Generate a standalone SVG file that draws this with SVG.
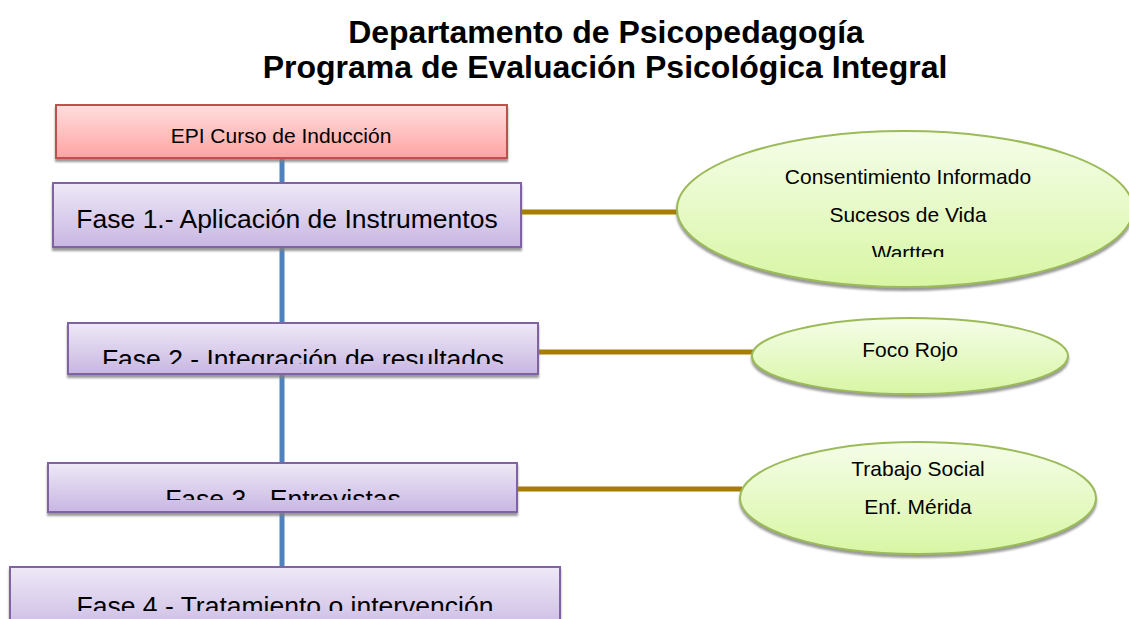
<svg xmlns="http://www.w3.org/2000/svg" width="1129" height="619" viewBox="0 0 1129 619">
  <style>
    .title { font-family: "Liberation Sans", Arial, sans-serif; font-weight: bold; font-size: 32px; fill: #000; text-anchor: middle; }
    .fase { font-family: "Liberation Sans", Arial, sans-serif; font-size: 26.5px; fill: #000; text-anchor: middle; }
    .small { font-family: "Liberation Sans", Arial, sans-serif; font-size: 21px; fill: #000; text-anchor: middle; }
    .box { fill: url(#gPurple); stroke: #8064a2; stroke-width: 2; filter: url(#shadow); }
    .red { fill: url(#gRed); stroke: #c0504d; stroke-width: 2; filter: url(#shadow); }
    .ell { fill: url(#gGreen); stroke: #9bbb59; stroke-width: 2; filter: url(#shadow); }
    .vline { stroke: #4f81bd; stroke-width: 5; fill: none; }
    .hline { stroke: #a67d00; stroke-width: 5; fill: none; }
  </style>
  <defs>
    <linearGradient id="gPurple" x1="0" y1="0" x2="0" y2="1">
      <stop offset="0" stop-color="#eee9f7"/>
      <stop offset="1" stop-color="#c8b6e2"/>
    </linearGradient>
    <linearGradient id="gRed" x1="0" y1="0" x2="0" y2="1">
      <stop offset="0" stop-color="#ffdede"/>
      <stop offset="1" stop-color="#ffa3a3"/>
    </linearGradient>
    <linearGradient id="gGreen" x1="0" y1="0" x2="0" y2="1">
      <stop offset="0" stop-color="#f5fde9"/>
      <stop offset="1" stop-color="#d8f6a4"/>
    </linearGradient>
    <filter id="shadow" x="-5%" y="-10%" width="110%" height="130%">
      <feDropShadow dx="0" dy="3" stdDeviation="1" flood-color="#808080" flood-opacity="0.8"/>
    </filter>
    <clipPath id="c1"><rect x="676" y="120" width="460" height="137"/></clipPath>
    <clipPath id="c2"><rect x="60" y="320" width="490" height="44"/></clipPath>
    <clipPath id="c3"><rect x="40" y="460" width="490" height="40"/></clipPath>
    <clipPath id="c4"><rect x="0" y="565" width="570" height="46"/></clipPath>
  </defs>

  <g id="title">
    <text class="title" x="606" y="43">Departamento de Psicopedagogía</text>
    <text class="title" x="605" y="78">Programa de Evaluación Psicológica Integral</text>
  </g>

  <g id="connectors">
    <line class="vline" x1="282" y1="158" x2="282" y2="568"/>
    <line class="hline" x1="521" y1="212" x2="678" y2="212"/>
    <line class="hline" x1="538" y1="352" x2="754" y2="352"/>
    <line class="hline" x1="517" y1="489" x2="742" y2="489"/>
  </g>

  <g id="epi">
    <rect class="red" x="56" y="105" width="451" height="53"/>
    <text class="small" x="281" y="143">EPI Curso de Inducción</text>
  </g>

  <g id="fase1">
    <rect class="box" x="53" y="183" width="468" height="64"/>
    <text class="fase" x="287" y="228">Fase 1.- Aplicación de Instrumentos</text>
  </g>

  <g id="fase2">
    <rect class="box" x="68" y="323" width="470" height="51"/>
    <text class="fase" x="303" y="368" clip-path="url(#c2)">Fase 2.- Integración de resultados</text>
  </g>

  <g id="fase3">
    <rect class="box" x="48" y="463" width="469" height="49"/>
    <text class="fase" x="283" y="508" clip-path="url(#c3)">Fase 3.- Entrevistas</text>
  </g>

  <g id="fase4">
    <rect class="box" x="10" y="567" width="550" height="70"/>
    <text class="fase" x="285" y="615" clip-path="url(#c4)">Fase 4.- Tratamiento o intervención</text>
  </g>

  <g id="instrumentos">
    <ellipse class="ell" cx="905" cy="209" rx="228" ry="78"/>
    <g clip-path="url(#c1)">
      <text class="small" x="908" y="184">Consentimiento Informado</text>
      <text class="small" x="908" y="222">Sucesos de Vida</text>
      <text class="small" x="908" y="260">Wartteg</text>
    </g>
  </g>

  <g id="focorojo">
    <ellipse class="ell" cx="910" cy="356" rx="158" ry="38"/>
    <text class="small" x="910" y="357">Foco Rojo</text>
  </g>

  <g id="entrevistas">
    <ellipse class="ell" cx="918" cy="498" rx="178" ry="56"/>
    <text class="small" x="918" y="476">Trabajo Social</text>
    <text class="small" x="918" y="514">Enf. Mérida</text>
  </g>
</svg>
